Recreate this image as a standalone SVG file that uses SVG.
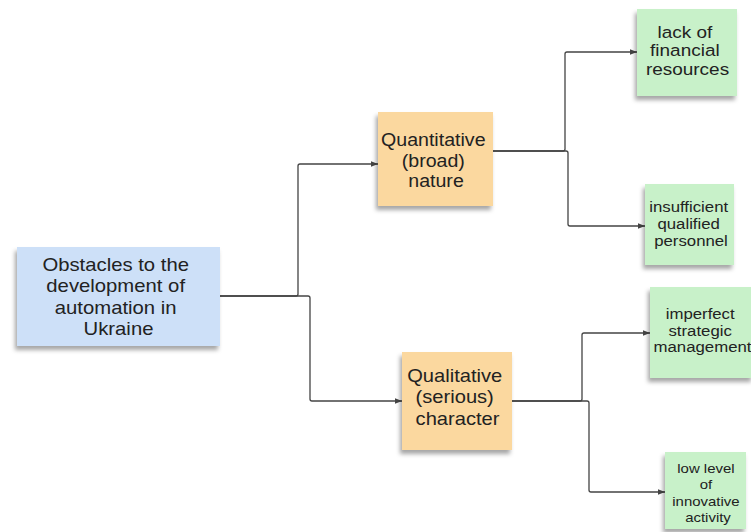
<svg xmlns="http://www.w3.org/2000/svg" width="751" height="532" viewBox="0 0 751 532">
  <defs>
    <filter id="sh" x="-20%" y="-20%" width="140%" height="150%">
      <feDropShadow dx="-2" dy="4" stdDeviation="2.2" flood-color="#000" flood-opacity="0.35"/>
    </filter>
    <marker id="arr" viewBox="0 0 10 10" refX="10" refY="5" markerWidth="7" markerHeight="7" markerUnits="userSpaceOnUse" orient="auto">
      <path d="M0,1 L10,5 L0,9 Z" fill="#444"/>
    </marker>
  </defs>
  <style>
    .blue { fill: #cde0f8; filter: url(#sh); }
    .orange { fill: #fbd89f; filter: url(#sh); }
    .green { fill: #c8f1c9; filter: url(#sh); }
    .t { font-family: "Liberation Sans", Arial, sans-serif; fill: #222; text-anchor: middle; }
    .conn path { fill: none; stroke: #444; stroke-width: 1.3; stroke-linejoin: round; marker-end: url(#arr); }
  </style>
  <rect width="751" height="532" fill="#fff"/>

  <g id="connectors" class="conn">
    <path d="M220,296 H296 Q298,296 298,294 V166 Q298,164 300,164 H378"/>
    <path d="M220,296 H308 Q310,296 310,298 V399 Q310,401 312,401 H402"/>
    <path d="M493,151 H563 Q565,151 565,149 V54 Q565,52 567,52 H637"/>
    <path d="M493,151 H566 Q568,151 568,153 V224 Q568,226 570,226 H645"/>
    <path d="M512,401 H580 Q582,401 582,399 V335 Q582,333 584,333 H650"/>
    <path d="M512,401 H587 Q589,401 589,403 V490 Q589,492 591,492 H665"/>
  </g>

  <g id="obstacles">
    <rect class="blue" x="17" y="247" width="203" height="99"/>
    <g transform="translate(118.5,0) scale(1.14,1)">
      <text class="t" font-size="17.8">
        <tspan x="0" y="271">Obstacles to the</tspan>
        <tspan x="0" y="292.5">development of</tspan>
        <tspan x="0" y="314">automation in</tspan>
        <tspan x="0" y="335.5">Ukraine</tspan>
      </text>
    </g>
  </g>

  <g id="quantitative">
    <rect class="orange" x="378" y="112" width="115" height="94"/>
    <g transform="translate(436,0) scale(1.12,1)">
      <text class="t" font-size="17.5">
        <tspan x="0" y="146.5">Quantitative</tspan>
        <tspan x="0" y="167">(broad)</tspan>
        <tspan x="0" y="187.5">nature</tspan>
      </text>
    </g>
  </g>

  <g id="qualitative">
    <rect class="orange" x="402" y="352" width="110" height="98"/>
    <g transform="translate(457.5,0) scale(1.15,1)">
      <text class="t" font-size="17.5">
        <tspan x="0" y="382">Qualitative</tspan>
        <tspan x="0" y="403.5">(serious)</tspan>
        <tspan x="0" y="425">character</tspan>
      </text>
    </g>
  </g>

  <g id="lack">
    <rect class="green" x="637" y="9" width="100" height="87"/>
    <g transform="translate(687.5,0) scale(1.15,1)">
      <text class="t" font-size="16.5">
        <tspan x="0" y="38">lack of</tspan>
        <tspan x="0" y="56.5">financial</tspan>
        <tspan x="0" y="75">resources</tspan>
      </text>
    </g>
  </g>

  <g id="insufficient">
    <rect class="green" x="645" y="184" width="89" height="81"/>
    <g transform="translate(691,0) scale(1.15,1)">
      <text class="t" font-size="14.6">
        <tspan x="0" y="212">insufficient</tspan>
        <tspan x="0" y="229">qualified</tspan>
        <tspan x="0" y="246">personnel</tspan>
      </text>
    </g>
  </g>

  <g id="imperfect">
    <rect class="green" x="650" y="287" width="103" height="91"/>
    <g transform="translate(702.5,0) scale(1.15,1)">
      <text class="t" font-size="14.6">
        <tspan x="0" y="319.5">imperfect</tspan>
        <tspan x="0" y="336">strategic</tspan>
        <tspan x="0" y="352.5">management</tspan>
      </text>
    </g>
  </g>

  <g id="lowlevel">
    <rect class="green" x="665" y="452" width="81" height="77"/>
    <g transform="translate(708,0) scale(1.15,1)">
      <text class="t" font-size="13">
        <tspan x="0" y="473.5">low level</tspan>
        <tspan x="0" y="489.5">of</tspan>
        <tspan x="0" y="506">innovative</tspan>
        <tspan x="0" y="522">activity</tspan>
      </text>
    </g>
  </g>
</svg>
